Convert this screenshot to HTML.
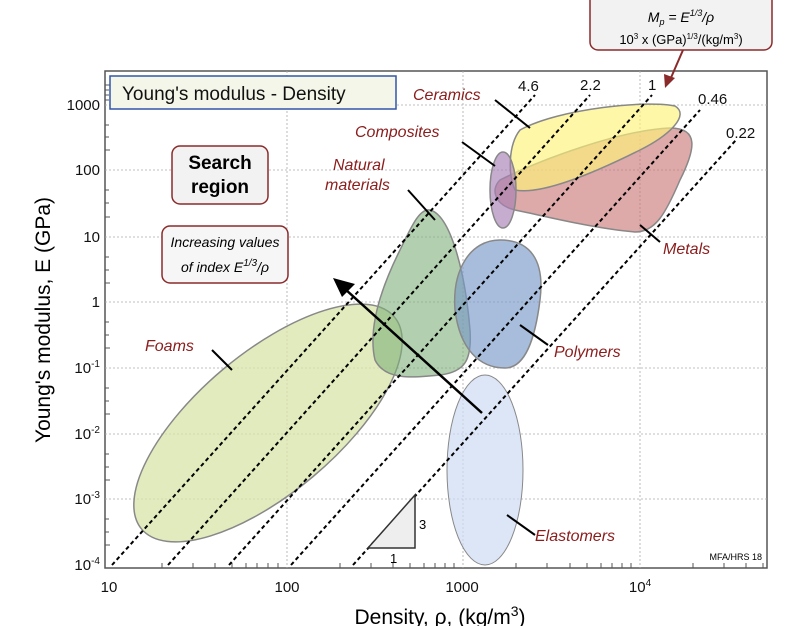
<!DOCTYPE html><html><head><style>body{margin:0;background:#fff}svg{display:block;font-family:"Liberation Sans",sans-serif}</style></head><body>
<svg width="800" height="626" viewBox="0 0 800 626">
<rect x="105" y="71" width="662" height="497" fill="#fff" stroke="#555" stroke-width="1.5"/>
<g stroke="#aaa" stroke-width="0.8" stroke-dasharray="2,2">
<line x1="287" y1="71" x2="287" y2="568"/><line x1="463" y1="71" x2="463" y2="568"/><line x1="640" y1="71" x2="640" y2="568"/>
<line x1="105" y1="105" x2="767" y2="105"/><line x1="105" y1="170" x2="767" y2="170"/><line x1="105" y1="237" x2="767" y2="237"/><line x1="105" y1="302" x2="767" y2="302"/><line x1="105" y1="368" x2="767" y2="368"/><line x1="105" y1="434" x2="767" y2="434"/><line x1="105" y1="499" x2="767" y2="499"/>
</g>
<g stroke="#555" stroke-width="1">
<path d="M105,85h5M105,90h4M105,95h4M105,100h4M105,125h4M105,137h4M105,150h5M105,190h4M105,203h4M105,217h5M105,257h4M105,270h4M105,283h5M105,322h4M105,335h4M105,348h5M105,388h4M105,401h4M105,414h5M105,454h4M105,467h4M105,480h5M105,519h4M105,532h4M105,545h5"/>
<path d="M162,568v-5M193,568v-5M215,568v-5M232,568v-5M246,568v-5M257,568v-5M268,568v-5M278,568v-5M340,568v-5M371,568v-5M393,568v-5M410,568v-5M424,568v-5M435,568v-5M445,568v-5M454,568v-5M516,568v-5M547,568v-5M570,568v-5M587,568v-5M601,568v-5M612,568v-5M622,568v-5M631,568v-5M693,568v-5M724,568v-5M746,568v-5M763,568v-5"/>
</g>
<g stroke="#888" stroke-width="1.5">
<ellipse cx="268" cy="423" rx="165" ry="70" transform="rotate(-40 268 423)" fill="#d8e4a8" fill-opacity="0.75"/>
<path d="M430,210 C450,215 465,270 470,330 C472,360 465,372 440,375 C410,378 385,380 375,360 C368,330 380,290 400,250 C412,225 420,208 430,210 Z" fill="#7fb07a" fill-opacity="0.6"/>
<path d="M500,240 C530,240 545,260 540,300 C535,340 525,368 505,368 C480,368 460,350 455,310 C452,270 470,240 500,240 Z" fill="#7a9ac8" fill-opacity="0.65"/>
<ellipse cx="485" cy="470" rx="38" ry="95" fill="#cddcf3" fill-opacity="0.7" stroke-width="1"/>
<path d="M500,180 C540,160 620,130 670,128 C700,128 695,150 680,180 C665,215 655,232 635,232 C590,228 540,215 515,210 C495,205 490,190 500,180 Z" fill="#c77070" fill-opacity="0.6"/>
<path d="M520,130 C560,108 650,100 675,106 C690,115 670,135 640,150 C590,175 540,195 515,190 C508,175 508,145 520,130 Z" fill="#fff27a" fill-opacity="0.65"/>
<ellipse cx="503" cy="190" rx="13" ry="38" fill="#a77fb5" fill-opacity="0.65"/>
</g>
<g stroke="#000" stroke-width="2" stroke-dasharray="4,3">
<line x1="112" y1="565" x2="535" y2="95"/><line x1="168" y1="565" x2="590" y2="95"/><line x1="229" y1="565" x2="652" y2="95"/><line x1="291" y1="565" x2="700" y2="110"/><line x1="353" y1="565" x2="736" y2="140"/>
</g>
<g font-size="15" fill="#111"><text x="518" y="91">4.6</text><text x="580" y="90">2.2</text><text x="648" y="90">1</text><text x="698" y="104">0.46</text><text x="726" y="138">0.22</text></g>
<path d="M368,548 L415,548 L415,495 Z" fill="#eee" stroke="#333" stroke-width="1.5"/>
<text x="419" y="529" font-size="13">3</text><text x="390" y="563" font-size="13">1</text>
<g stroke="#000" stroke-width="2.5"><line x1="482" y1="413" x2="345" y2="289"/></g>
<path d="M333,278 L355,284 L342,297 Z" fill="#000"/>
<g stroke="#000" stroke-width="2"><line x1="495" y1="100" x2="530" y2="128"/><line x1="462" y1="142" x2="495" y2="166"/><line x1="408" y1="190" x2="435" y2="220"/><line x1="212" y1="350" x2="232" y2="370"/><line x1="520" y1="325" x2="548" y2="345"/><line x1="660" y1="242" x2="640" y2="225"/><line x1="507" y1="515" x2="535" y2="535"/></g>
<g font-size="16" font-style="italic" fill="#8b1c1c"><text x="413" y="100">Ceramics</text><text x="355" y="137">Composites</text><text x="333" y="170">Natural</text><text x="325" y="190">materials</text><text x="663" y="254">Metals</text><text x="554" y="357">Polymers</text><text x="145" y="351">Foams</text><text x="535" y="541">Elastomers</text></g>
<rect x="110" y="76" width="286" height="33" fill="#f4f6e9" stroke="#3355aa" stroke-width="1.5"/>
<text x="122" y="100" font-size="19" fill="#111">Young's modulus - Density</text>
<rect x="172" y="146" width="96" height="58" rx="8" fill="#f2f2f2" stroke="#8b2a2a" stroke-width="1.5"/>
<text x="220" y="169" font-size="19" font-weight="bold" text-anchor="middle">Search</text><text x="220" y="193" font-size="19" font-weight="bold" text-anchor="middle">region</text>
<rect x="162" y="226" width="126" height="57" rx="8" fill="#f6f6f6" stroke="#8b2a2a" stroke-width="1.5"/>
<text x="225" y="247" font-size="14" font-style="italic" text-anchor="middle">Increasing values</text><text x="225" y="272" font-size="14" font-style="italic" text-anchor="middle">of index E<tspan font-size="10" dy="-6">1/3</tspan><tspan dy="6">/ρ</tspan></text>
<rect x="590" y="-8" width="182" height="58" rx="8" fill="#f2f2f2" stroke="#8b2a2a" stroke-width="1.5"/>
<text x="681" y="22" font-size="14" font-style="italic" text-anchor="middle">M<tspan font-size="9" dy="3">p</tspan><tspan dy="-3"> = E</tspan><tspan font-size="9" dy="-6">1/3</tspan><tspan dy="6">/ρ</tspan></text>
<text x="681" y="44" font-size="13" text-anchor="middle">10<tspan font-size="8" dy="-5">3</tspan><tspan dy="5"> x (GPa)</tspan><tspan font-size="8" dy="-5">1/3</tspan><tspan dy="5">/(kg/m</tspan><tspan font-size="8" dy="-5">3</tspan><tspan dy="5">)</tspan></text>
<line x1="683" y1="50" x2="670" y2="80" stroke="#8b2a2a" stroke-width="2"/><path d="M665,88 L664,74 L675,78 Z" fill="#8b2a2a"/>
<text x="762" y="560" font-size="9" text-anchor="end">MFA/HRS 18</text>
<g font-size="15" fill="#111" text-anchor="end"><text x="100" y="110">1000</text><text x="100" y="175">100</text><text x="100" y="242">10</text><text x="100" y="307">1</text><text x="100" y="373">10<tspan font-size="10" dy="-6">-1</tspan></text><text x="100" y="439">10<tspan font-size="10" dy="-6">-2</tspan></text><text x="100" y="504">10<tspan font-size="10" dy="-6">-3</tspan></text><text x="100" y="570">10<tspan font-size="10" dy="-6">-4</tspan></text></g>
<g font-size="15" fill="#111" text-anchor="middle"><text x="109" y="592">10</text><text x="287" y="592">100</text><text x="462" y="592">1000</text><text x="640" y="592">10<tspan font-size="10" dy="-6">4</tspan></text></g>
<text x="440" y="624" font-size="21" text-anchor="middle">Density, ρ, (kg/m<tspan font-size="14" dy="-8">3</tspan><tspan dy="8">)</tspan></text>
<text transform="translate(50,320) rotate(-90)" font-size="21" text-anchor="middle">Young's modulus, E (GPa)</text>
</svg></body></html>
